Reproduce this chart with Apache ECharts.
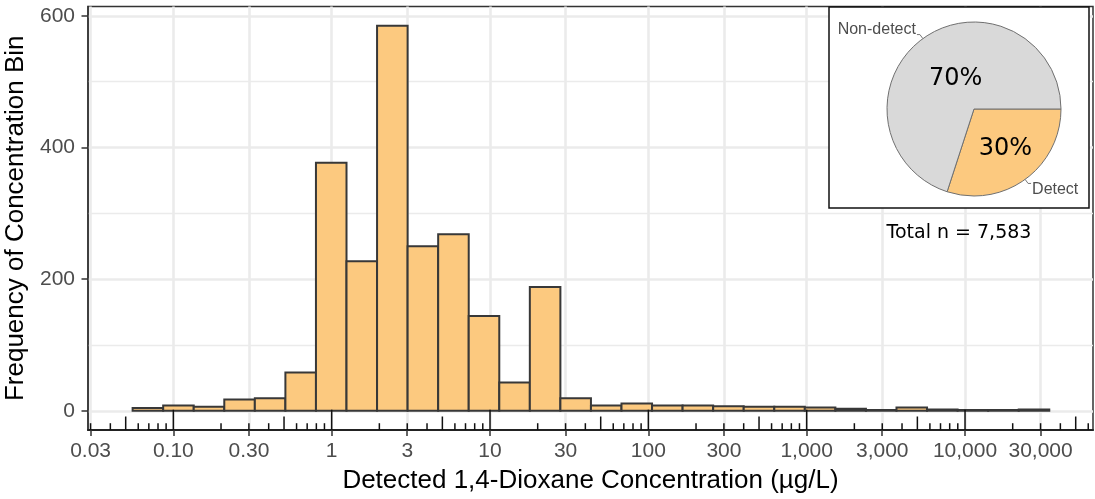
<!DOCTYPE html>
<html>
<head>
<meta charset="utf-8">
<title>1,4-Dioxane detections</title>
<script src="https://cdn.jsdelivr.net/npm/echarts@6/dist/echarts.min.js"></script>
<style>
  html, body { margin: 0; padding: 0; background: #fff; }
  #chart { width: 1095px; height: 499px; }
</style>
</head>
<body>
<div id="chart"></div>
<script>
// Histogram of detected concentrations: 30 bins, equal width on a log10 scale
const binCounts = [4, 8, 6, 17, 19, 58, 377, 227, 585, 250, 268, 144, 43, 188, 19,
                   8, 11, 8, 8, 7, 6, 6, 5, 3, 1, 5, 2, 1, 1, 2];
const binRange = [0.0553, 34040];          // µg/L: low edge of first bin, high edge of last bin

// Axis breaks and labels
const xTickValues = [0.03, 0.1, 0.3, 1, 3, 10, 30, 100, 300, 1000, 3000, 10000, 30000];
const xTickLabels = ['0.03', '0.10', '0.30', '1', '3', '10', '30', '100', '300',
                     '1,000', '3,000', '10,000', '30,000'];
const xLimits = [0.0289, 64300];           // µg/L
const yMajor = [0, 200, 400, 600];
const yMinor = [100, 300, 500];
const yLimits = [-29.25, 614.25];

// Detection share (inset pie)
const pieNames = ['Detect', 'Non-detect'];
const pieShares = [30, 70];
const totalN = 7583;

const log10 = Math.log10;
const ORANGE = '#FCC97F';

// bins -> [lowLog, highLog, count]
const lo = log10(binRange[0]), hi = log10(binRange[1]);
const step = (hi - lo) / binCounts.length;
const bars = binCounts.map((n, i) => [lo + i * step, lo + (i + 1) * step, n]);

// log tick annotation along the bottom: 1..9 x 10^k (long at 1, mid at 5, short otherwise)
const logTicks = [];
for (let k = -2; k <= 4; k++) {
  for (let d = 1; d <= 9; d++) {
    const v = d * Math.pow(10, k);
    if (v >= xLimits[0] && v <= xLimits[1]) logTicks.push([log10(v), d === 1 ? 2 : (d === 5 ? 1 : 0)]);
  }
}
const logTickLen = [6.8, 13.5, 20.3];

const xTickLogs = xTickValues.map(log10);
function xLabel(v) {
  let best = 0;
  xTickLogs.forEach((t, i) => { if (Math.abs(t - v) < Math.abs(xTickLogs[best] - v)) best = i; });
  return xTickLabels[best];
}

// small nudges for the pie's text labels
const pctNudge = [[4, 2], [9, 7]];
const nameNudge = [[0, 6], [0, -5]];

const chart = echarts.init(document.getElementById('chart'), null, { renderer: 'canvas' });

const option = {
  animation: false,
  backgroundColor: '#fff',
  textStyle: { fontFamily: 'Liberation Sans, Arial, sans-serif' },
  grid: {
    left: 88, right: 2, top: 6.5, bottom: 69,
    containLabel: false, outerBoundsMode: 'none',
    show: true, borderColor: '#333', borderWidth: 1.5, backgroundColor: 'transparent'
  },
  xAxis: {
    type: 'value',
    min: log10(xLimits[0]), max: log10(xLimits[1]),
    name: 'Detected 1,4-Dioxane Concentration (µg/L)',
    nameLocation: 'middle', nameGap: 38,
    nameTextStyle: { color: '#000', fontSize: 26, fontFamily: 'Liberation Sans' },
    axisLine: { show: true, onZero: false, lineStyle: { color: '#222', width: 2 } },
    axisTick: { show: true, customValues: xTickLogs, length: 6, lineStyle: { color: '#333', width: 1.5 } },
    axisLabel: {
      customValues: xTickLogs, formatter: xLabel, margin: 11,
      color: '#4D4D4D', fontSize: 21, fontFamily: 'Liberation Sans', hideOverlap: false
    },
    splitLine: { show: true, lineStyle: { color: '#EBEBEB', width: 2.6 } }
  },
  yAxis: [
    {
      type: 'value', min: yLimits[0], max: yLimits[1],
      name: 'Frequency of Concentration Bin',
      nameLocation: 'middle', nameGap: 55,
      nameTextStyle: { color: '#000', fontSize: 26, fontFamily: 'Liberation Sans' },
      axisLine: { show: true, onZero: false, lineStyle: { color: '#333', width: 1.5 } },
      axisTick: { show: true, customValues: yMajor, length: 6.5, lineStyle: { color: '#333', width: 1.5 } },
      axisLabel: { customValues: yMajor, margin: 13, color: '#4D4D4D', fontSize: 21, fontFamily: 'Liberation Sans' },
      splitLine: { show: true, lineStyle: { color: '#EBEBEB', width: 2.6 } }
    },
    {
      type: 'value', min: yLimits[0], max: yLimits[1], position: 'left', offset: 0,
      axisLine: { show: false },
      axisTick: { show: false, customValues: yMinor },
      axisLabel: { show: false, customValues: yMinor },
      splitLine: { show: true, lineStyle: { color: '#EBEBEB', width: 1.3 } }
    }
  ],
  graphic: [
    {
      type: 'rect', z: 3,
      shape: { x: 829, y: 7, width: 260, height: 201 },
      style: { fill: '#fff', stroke: '#111', lineWidth: 1.5 }
    },
    {
      type: 'text', z: 6, x: 959, y: 233,
      style: {
        text: 'Total n = ' + totalN.toLocaleString('en-US'),
        fill: '#000', font: '19px "DejaVu Sans"', textAlign: 'center', textVerticalAlign: 'middle'
      }
    }
  ],
  series: [
    {
      type: 'custom', name: 'bins', z: 2, silent: true,
      xAxisIndex: 0, yAxisIndex: 0,
      data: bars,
      encode: { x: [0, 1], y: 2 },
      renderItem(params, api) {
        const p0 = api.coord([api.value(0), 0]);
        const p1 = api.coord([api.value(1), api.value(2)]);
        return {
          type: 'rect',
          shape: { x: p0[0], y: p1[1], width: p1[0] - p0[0], height: p0[1] - p1[1] },
          style: { fill: ORANGE, stroke: '#383838', lineWidth: 2 }
        };
      }
    },
    {
      type: 'custom', name: 'logticks', z: 3, silent: true,
      xAxisIndex: 0, yAxisIndex: 0,
      data: logTicks,
      encode: { x: 0 },
      renderItem(params, api) {
        const p = api.coord([api.value(0), yLimits[0]]);
        const len = logTickLen[api.value(1)];
        return {
          type: 'line',
          shape: { x1: p[0], y1: p[1], x2: p[0], y2: p[1] - len },
          style: { stroke: '#111', lineWidth: 1.5 }
        };
      }
    },
    {
      type: 'pie', z: 5, silent: true,
      center: [974, 109], radius: 87,
      startAngle: 0, clockwise: true,
      data: pieNames.map((n, i) => ({ name: n, value: pieShares[i],
        itemStyle: { color: i === 0 ? ORANGE : '#D9D9D9' } })),
      itemStyle: { borderColor: '#707070', borderWidth: 1 },
      label: {
        position: 'inside', formatter: p => p.value + '%',
        color: '#000', fontSize: 24, fontFamily: 'DejaVu Sans'
      },
      labelLayout: p => ({ dx: pctNudge[p.dataIndex][0], dy: pctNudge[p.dataIndex][1] }),
      labelLine: { show: false }
    },
    {
      type: 'pie', z: 6, silent: true,
      center: [974, 109], radius: 87,
      startAngle: 0, clockwise: true, avoidLabelOverlap: false,
      data: pieNames.map((n, i) => ({ name: n, value: pieShares[i] })),
      itemStyle: { color: 'rgba(0,0,0,0)', borderWidth: 0 },
      label: {
        position: 'outside', formatter: '{b}', distanceToLabelLine: 1,
        color: '#4D4D4D', fontSize: 16, fontFamily: 'Liberation Sans'
      },
      labelLayout: p => ({ dx: nameNudge[p.dataIndex][0], dy: nameNudge[p.dataIndex][1] }),
      labelLine: { show: true, length: 5, length2: 3, lineStyle: { color: '#777', width: 1 } }
    }
  ]
};

chart.setOption(option);
</script>
</body>
</html>
